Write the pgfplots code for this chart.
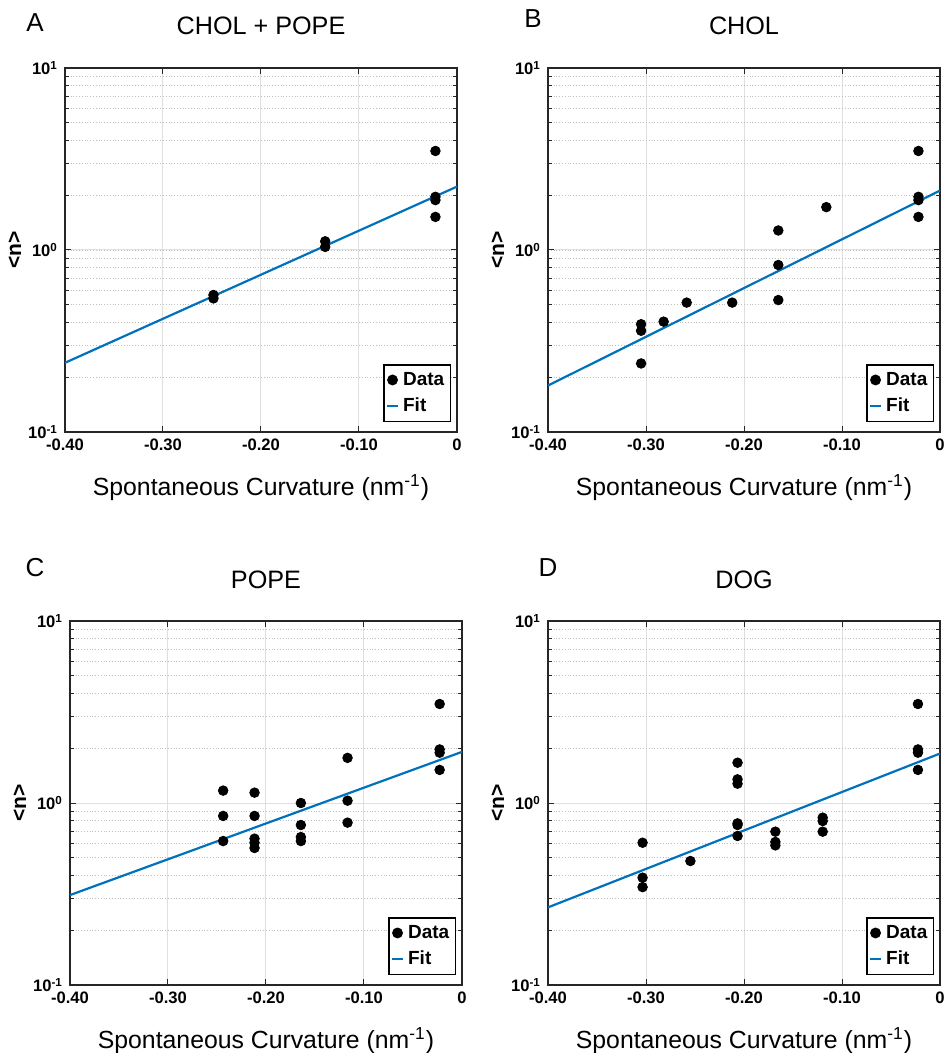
\documentclass[border=0pt]{standalone}
\usepackage{fontspec}
\setmainfont{Liberation Sans}
\usepackage{pgfplots}
\pgfplotsset{compat=1.18}
\definecolor{fitblue}{RGB}{0,114,189}
\definecolor{axgray}{RGB}{38,38,38}

\pgfplotsset{
  curvpanel/.style={
    scale only axis, width=196pt, height=182pt, anchor=south west,
    xmin=-0.4, xmax=0, ymin=0.1, ymax=10,
    xtick={-0.4,-0.3,-0.2,-0.1,0},
    xticklabels={-0.40,-0.30,-0.20,-0.10,0},
    ytick={0.1,1,10},
    yticklabels={10\textsuperscript{-1},10\textsuperscript{0},10\textsuperscript{1}},
    tick label style={font=\bfseries\fontsize{8.3}{9}\selectfont},
    tick align=inside, major tick length=3pt, minor tick length=2pt,
    axis line style={axgray, line width=0.8pt},
    tick style={axgray, line width=0.5pt},
    grid=both,
    major grid style={gray!25, line width=0.5pt},
    minor grid style={gray!50, densely dotted, line width=0.4pt},
    xlabel={Spontaneous Curvature (nm\textsuperscript{-1})},
    xlabel style={font=\fontsize{12.4}{13}\selectfont, at={(axis description cs:0.5,-0.152)}, anchor=center},
    ylabel={\textbf{\textless n\textgreater}},
    ylabel style={font=\fontsize{10.5}{11}\selectfont, at={(axis description cs:-0.128,0.5)}, anchor=center},
    title style={font=\fontsize{12.6}{13}\selectfont, at={(0.5,1)}, anchor=base, yshift=10.5pt},
    legend style={at={(0.985,0.027)}, anchor=south east, draw=black,
      line width=0.8pt, font=\bfseries\fontsize{9.5}{10}\selectfont,
      inner xsep=1pt, inner ysep=1.5pt, row sep=0.8pt},
    legend cell align=left,
  },
}

\begin{document}
\begin{tikzpicture}
\useasboundingbox (0,0) rectangle (472pt,526.5pt);

% A
\begin{semilogyaxis}[curvpanel, at={(32.5pt,310.5pt)}, title={CHOL + POPE}]
  \addplot[only marks, mark=*, mark size=2.4pt, black,
    legend image code/.code={\fill[black] (0pt,0pt) circle (2.3pt);}] coordinates {
    (-0.022,3.50) (-0.022,1.96) (-0.022,1.88) (-0.022,1.52)
    (-0.1345,1.116) (-0.1345,1.04) (-0.2485,0.566) (-0.2485,0.542)
  };
  \addplot[fitblue, line width=1.1pt, no marks,
    legend image code/.code={\draw[fitblue, line width=1pt] (-2.8pt,0pt) -- (2.8pt,0pt);}]
    coordinates {(-0.4,0.240) (0,2.23)};
  \legend{Data,Fit}
\end{semilogyaxis}

% B
\begin{semilogyaxis}[curvpanel, at={(274pt,310.5pt)}, title={CHOL}]
  \addplot[only marks, mark=*, mark size=2.4pt, black,
    legend image code/.code={\fill[black] (0pt,0pt) circle (2.3pt);}] coordinates {
    (-0.022,3.50) (-0.022,1.96) (-0.022,1.88) (-0.022,1.52)
    (-0.116,1.72) (-0.165,1.28) (-0.165,0.827) (-0.165,0.531)
    (-0.212,0.514) (-0.2585,0.514) (-0.282,0.404)
    (-0.305,0.391) (-0.305,0.360) (-0.305,0.238)
  };
  \addplot[fitblue, line width=1.1pt, no marks,
    legend image code/.code={\draw[fitblue, line width=1pt] (-2.8pt,0pt) -- (2.8pt,0pt);}]
    coordinates {(-0.4,0.180) (0,2.12)};
  \legend{Data,Fit}
\end{semilogyaxis}

% C
\begin{semilogyaxis}[curvpanel, at={(35pt,34pt)}, title={POPE}]
  \addplot[only marks, mark=*, mark size=2.4pt, black,
    legend image code/.code={\fill[black] (0pt,0pt) circle (2.3pt);}] coordinates {
    (-0.0228,3.50) (-0.0228,1.97) (-0.0228,1.89) (-0.0228,1.52)
    (-0.1168,1.77) (-0.1168,1.03) (-0.1168,0.780)
    (-0.1644,1.0) (-0.1644,0.757) (-0.1644,0.650) (-0.1644,0.618)
    (-0.2117,1.14) (-0.2117,0.849) (-0.2117,0.637) (-0.2117,0.605) (-0.2117,0.566)
    (-0.2437,1.17) (-0.2437,0.849) (-0.2437,0.618)
  };
  \addplot[fitblue, line width=1.1pt, no marks,
    legend image code/.code={\draw[fitblue, line width=1pt] (-2.8pt,0pt) -- (2.8pt,0pt);}]
    coordinates {(-0.4,0.312) (0,1.91)};
  \legend{Data,Fit}
\end{semilogyaxis}

% D
\begin{semilogyaxis}[curvpanel, at={(274pt,34pt)}, title={DOG}]
  \addplot[only marks, mark=*, mark size=2.4pt, black,
    legend image code/.code={\fill[black] (0pt,0pt) circle (2.3pt);}] coordinates {
    (-0.0225,3.50) (-0.0225,1.97) (-0.0225,1.89) (-0.0225,1.52)
    (-0.1197,0.831) (-0.1197,0.796) (-0.1197,0.696)
    (-0.168,0.696) (-0.168,0.611) (-0.168,0.585)
    (-0.2066,1.665) (-0.2066,1.349) (-0.2066,1.277) (-0.2066,0.773) (-0.2066,0.757) (-0.2066,0.659)
    (-0.2547,0.480)
    (-0.3035,0.605) (-0.3035,0.389) (-0.3035,0.345)
  };
  \addplot[fitblue, line width=1.1pt, no marks,
    legend image code/.code={\draw[fitblue, line width=1pt] (-2.8pt,0pt) -- (2.8pt,0pt);}]
    coordinates {(-0.4,0.267) (0,1.87)};
  \legend{Data,Fit}
\end{semilogyaxis}

% panel letters
\node[font=\fontsize{13}{14}\selectfont] at (17.5pt,515pt) {A};
\node[font=\fontsize{13}{14}\selectfont] at (266.5pt,517pt) {B};
\node[font=\fontsize{13}{14}\selectfont] at (17.5pt,242.5pt) {C};
\node[font=\fontsize{13}{14}\selectfont] at (274pt,242.5pt) {D};
\end{tikzpicture}
\end{document}
